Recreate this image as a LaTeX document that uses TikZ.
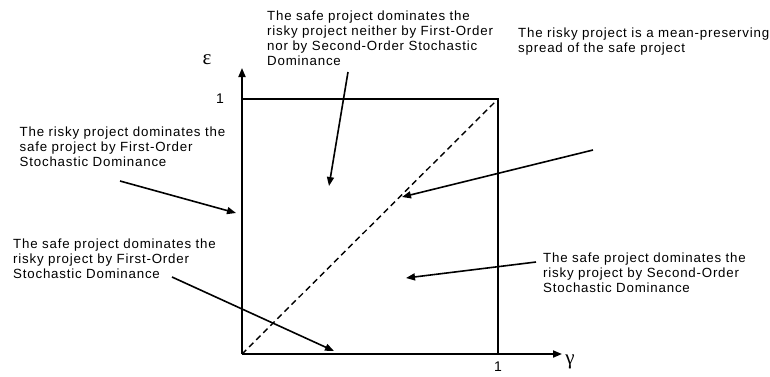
\documentclass[tikz,border=0pt]{standalone}
\usepackage{fontspec}
\setmainfont{Liberation Sans}[LetterSpace=6]
\newfontfamily\greekfont{Liberation Serif}
\usepackage{tikz}
\usetikzlibrary{positioning,arrows.meta}

\begin{document}
\begin{tikzpicture}[
    x=1pt, y=-1pt,
    axis/.style={line width=1.8pt, -{Triangle[length=9pt,width=7pt]}},
    frame/.style={line width=1.8pt},
    diag/.style={line width=1.4pt, dash pattern=on 6pt off 4pt},
    arr/.style={line width=1.6pt, -{Triangle[length=9pt,width=7pt]}},
    note/.style={anchor=north west, inner sep=0pt, align=left, font=\fontsize{13.3}{15}\selectfont},
    tick/.style={inner sep=0pt, font=\fontsize{14}{15}\selectfont},
    sym/.style={inner sep=0pt, font=\fontsize{21}{21}\greekfont},
]
\useasboundingbox (0,0) rectangle (770,376);

% axes and unit square
\coordinate (origin) at (242,354);
\coordinate (ytop) at (242,68);
\coordinate (xend) at (562,354);
\coordinate (ul) at (242,99);
\coordinate (ur) at (498,99);
\coordinate (lr) at (498,354);

\draw[axis] (origin) -- (ytop);
\draw[axis] (origin) -- (xend);
\draw[frame] (ul) -- (ur) -- (lr);
\draw[diag] (origin) -- (ur);

\node[tick] (oney) at (220,99) {1};
\node[tick] (onex) at (498,367) {1};
\node[sym] (eps) at (207,60) {ε};
\node[sym] (gam) at (570,362) {γ};

% ===== TEXTS =====
\node[note] (txtneither) at (267,11) {The safe project dominates the\\risky project neither by First-Order\\nor by Second-Order Stochastic\\Dominance};
\node[note] (txtmean) at (518,28) {The risky project is a mean-preserving\\spread of the safe project};
\node[note] (txtriskyfsd) at (19.5,127) {The risky project dominates the\\safe project by First-Order\\Stochastic Dominance};
\node[note] (txtsafefsd) at (13,239) {The safe project dominates the\\risky project by First-Order\\Stochastic Dominance};
\node[note] (txtsafessd) at (543,253) {The safe project dominates the\\risky project by Second-Order\\Stochastic Dominance};

% ===== ARROWS =====
\coordinate (neitherS) at (348,72);
\coordinate (neitherE) at (329,186);
\coordinate (meanS) at (593,150);
\coordinate (meanE) at (402,197);
\coordinate (riskyS) at (120,181);
\coordinate (riskyE) at (236,213);
\coordinate (safefS) at (172,277);
\coordinate (safefE) at (334,351);
\coordinate (safesS) at (536,262);
\coordinate (safesE) at (406,278);

\draw[arr] (neitherS) -- (neitherE);
\draw[arr] (meanS) -- (meanE);
\draw[arr] (riskyS) -- (riskyE);
\draw[arr] (safefS) -- (safefE);
\draw[arr] (safesS) -- (safesE);
\end{tikzpicture}
\end{document}
